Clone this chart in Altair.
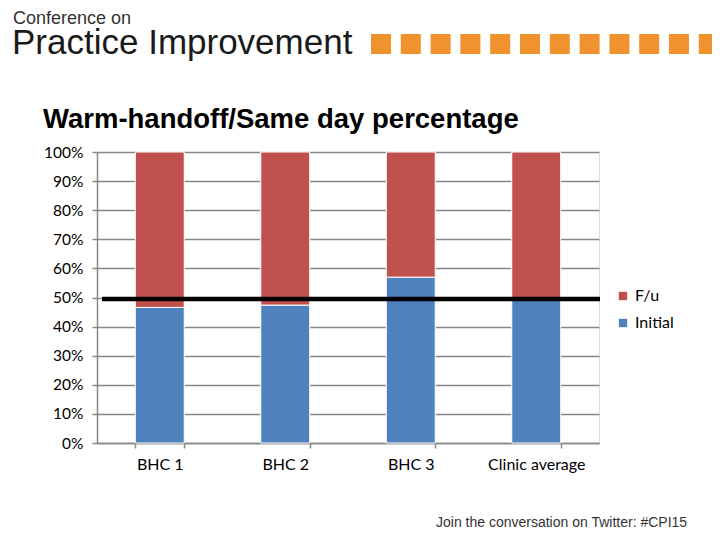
import altair as alt
import pandas as pd

categories = ["BHC 1", "BHC 2", "BHC 3", "Clinic average"]
initial = [46.6, 47.4, 57.0, 49.8]
followup = [100 - v for v in initial]
target = 49.5
series = ["F/u", "Initial"]
colors = ["#C0504D", "#4F81BD"]
y_ticks = [0, 10, 20, 30, 40, 50, 60, 70, 80, 90, 100]

rows = []
for c, i, f in zip(categories, initial, followup):
    rows.append({"cat": c, "series": "Initial", "val": i / 100, "ord": 0})
    rows.append({"cat": c, "series": "F/u", "val": f / 100, "ord": 1})
df = pd.DataFrame(rows)

W, H = 502, 291
OX, OY = 89, 144  # plot origin inside the 704x524 canvas

y_axis = alt.Axis(format=".0%", values=[v / 100 for v in y_ticks],
                  labelOverlap=False,
                  labelFont="Lato", labelFontSize=15.5, labelColor="black",
                  labelPadding=9, tickSize=5, tickColor="#868686",
                  tickWidth=1.5, domainColor="#868686", domainWidth=1.5,
                  grid=True, gridColor="#868686", gridWidth=1.5)
y_scale = alt.Scale(domain=[0, 1], nice=False)

bars = alt.Chart(df).mark_bar(stroke="white", strokeWidth=1).encode(
    x=alt.X("cat:N", sort=categories, title=None,
            scale=alt.Scale(paddingInner=0.61, paddingOuter=0.305),
            axis=alt.Axis(labelAngle=0, tickBand="extent", labelFont="Lato",
                          labelFontSize=16, labelColor="black", labelPadding=8,
                          tickSize=5, tickColor="#868686", domainColor="#868686",
                          domainWidth=1.5, tickWidth=1.5, grid=False)),
    y=alt.Y("val:Q", stack="zero", title=None, scale=y_scale, axis=y_axis),
    color=alt.Color("series:N", scale=alt.Scale(domain=series, range=colors),
                    legend=alt.Legend(title=None, orient="none", legendX=518, legendY=136,
                                      symbolType="square", symbolSize=70,
                                      symbolStrokeWidth=0, labelFont="Lato",
                                      labelFontSize=16, labelColor="black",
                                      rowPadding=11, labelOffset=4)),
    order=alt.Order("ord:Q"),
)

line_df = pd.DataFrame({"val": [target / 100]})
rule = alt.Chart(line_df).mark_rule(color="black", strokeWidth=4.5).encode(
    y=alt.Y("val:Q", title=None, scale=y_scale, axis=y_axis),
    x=alt.value(5), x2=alt.value(503)
)

def txt(s, x, y, size, weight="normal", font="Liberation Sans", color="black"):
    return alt.Chart(pd.DataFrame({"s": [s]})).mark_text(
        align="left", baseline="alphabetic", fontSize=size, fontWeight=weight,
        font=font, color=color
    ).encode(text="s:N", x=alt.value(x), y=alt.value(y))

header1 = txt("Conference on", 13 - 8 - OX, 24 - 8 - OY, 18, weight=300, color="#333333")
header2 = txt("Practice Improvement", 12 - 8 - OX, 54 - 8 - OY, 35, weight=300, color="#1a1a1a")
title = txt("Warm-handoff/Same day percentage", 43 - 8 - OX, 128 - 8 - OY, 27.5, weight="bold")
footer = txt("Join the conversation on Twitter: #CPI15", 436 - 8 - OX, 527 - 8 - OY, 14, color="#333333")

sq_idx = list(range(12))
sq = alt.Chart(pd.DataFrame({"i": sq_idx})).transform_calculate(
    x0=f"371 - 8 - {OX} + datum.i * 29.8",
    x1=f"371 - 8 - {OX} + datum.i * 29.8 + 20",
).mark_rect(color="#F0922E").encode(
    x=alt.X("x0:Q", scale=None), x2="x1:Q",
    y=alt.value(34 - 8 - OY), y2=alt.value(54 - 8 - OY)
)

chart = alt.layer(bars, rule, header1, header2, title, footer, sq).properties(
    width=W, height=H,
    autosize=alt.AutoSizeParams(type="none"),
    padding={"left": OX, "top": OY, "right": 704 - OX - W, "bottom": 524 - OY - H},
).configure_view(stroke=None).configure(background="white")

chart.save("out.html", embed_options={"renderer": "svg", "actions": False})
